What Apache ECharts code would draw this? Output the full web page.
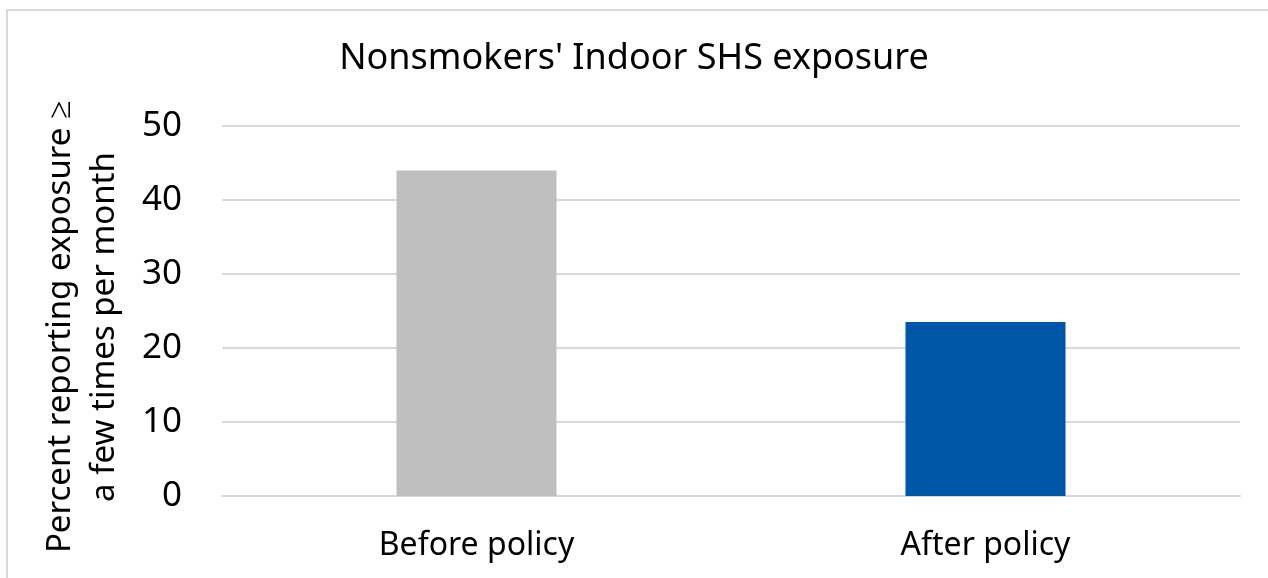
<!DOCTYPE html>
<html>
<head>
<meta charset="utf-8">
<script src="https://cdn.jsdelivr.net/npm/echarts@6/dist/echarts.min.js"></script>
<style>
html, body { margin: 0; padding: 0; background: #fff; }
#main { width: 1268px; height: 578px; }
</style>
</head>
<body>
<div id="main"></div>
<script>
// data
var categories = ['Before policy', 'After policy'];
var exposure = [44, 23.5];
var barColors = ['#BFBFBF', '#0057A8'];
var yTicks = [0, 10, 20, 30, 40, 50];

var myChart = echarts.init(document.getElementById('main'));
var font = 'Noto Sans';

var option = {
    backgroundColor: '#fff',
    animation: false,
    title: {
        text: "Nonsmokers' Indoor SHS exposure",
        left: 'center',
        top: 36,
        textStyle: {
            fontFamily: font,
            fontWeight: 'normal',
            fontSize: 36,
            color: '#000'
        }
    },
    graphic: [
        {
            // chart area border (top + left visible)
            type: 'polyline',
            shape: { points: [[7, 578], [7, 10], [1268, 10]] },
            style: { stroke: '#D9D9D9', lineWidth: 2, fill: null }
        }
    ],
    grid: {
        left: 222,
        right: 28,
        top: 126,
        bottom: 82,
        outerBoundsMode: 'none',
        containLabel: false
    },
    xAxis: {
        type: 'category',
        data: categories,
        axisTick: { show: false },
        axisLine: {
            lineStyle: { color: '#D9D9D9', width: 2 }
        },
        axisLabel: {
            color: '#000',
            fontFamily: font,
            fontSize: 32,
            margin: 34
        }
    },
    yAxis: {
        type: 'value',
        min: yTicks[0],
        max: yTicks[yTicks.length - 1],
        interval: 10,
        name: 'Percent reporting exposure \u2265\na few times per month',
        nameLocation: 'middle',
        nameRotate: 90,
        nameGap: 95,
        nameMoveOverlap: false,
        nameTextStyle: {
            color: '#000',
            fontFamily: font,
            fontSize: 33,
            lineHeight: 44,
            padding: [0, 32, 0, 0]
        },
        axisLine: { show: false },
        axisTick: { show: false },
        axisLabel: {
            color: '#000',
            fontFamily: font,
            fontSize: 35,
            margin: 40
        },
        splitLine: {
            lineStyle: { color: '#D9D9D9', width: 2 }
        }
    },
    series: [
        {
            type: 'bar',
            barWidth: 160,
            data: exposure.map(function (v, i) {
                return { value: v, itemStyle: { color: barColors[i] } };
            })
        }
    ]
};

myChart.setOption(option);
</script>
</body>
</html>
